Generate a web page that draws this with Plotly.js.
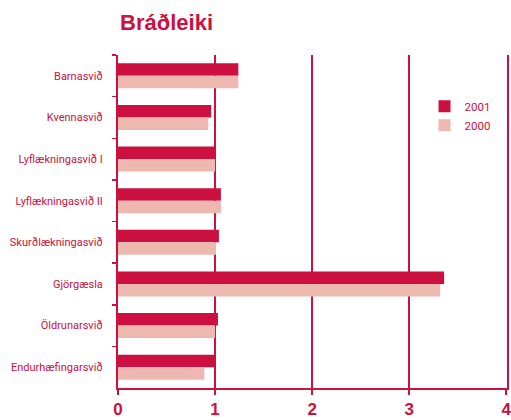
<!DOCTYPE html>
<html>
<head>
<meta charset="utf-8">
<script src="https://cdn.plot.ly/plotly-3.0.1.min.js"></script>
<style>html,body{margin:0;padding:0;background:#fff;}</style>
</head>
<body>
<div id="chart" style="width:511px;height:420px;"></div>
<script>
const categories = ["Barnasvið","Kvennasvið","Lyflækningasvið I","Lyflækningasvið II","Skurðlækningasvið","Gjörgæsla","Öldrunarsvið","Endurhæfingarsvið"];
const values2001 = [1.24, 0.96, 1.0, 1.06, 1.04, 3.36, 1.03, 1.0];
const values2000 = [1.24, 0.93, 1.0, 1.06, 1.01, 3.32, 1.0, 0.89];
const tickVals = [0, 1, 2, 3, 4];
const tickText = ["0", "1", "2", "3", "4"];

const crimson = "#CC1040";
const pink = "#EDB8B0";
const labelFont = "Roboto, 'Liberation Sans', sans-serif";

const data = [
  {type: "bar", orientation: "h", name: "2001", y: categories, x: values2001, marker: {color: crimson}},
  {type: "bar", orientation: "h", name: "2000", y: categories, x: values2000, marker: {color: pink}}
];

const layout = {
  width: 511, height: 420,
  margin: {l: 118, r: 4, t: 55, b: 32, pad: 0},
  paper_bgcolor: "#fff", plot_bgcolor: "#fff",
  barmode: "group", bargap: 0.4, bargroupgap: 0,
  showlegend: true,
  title: {text: "<b>Bráðleiki</b>", x: 0.235, xref: "container", xanchor: "left", y: 0.948, yref: "container", yanchor: "middle",
          font: {family: "'Liberation Sans', Arial, sans-serif", size: 22, color: crimson}},
  legend: {x: 0.788, y: 0.89, xanchor: "left", yanchor: "top", bgcolor: "rgba(0,0,0,0)",
           font: {family: labelFont, size: 11.5, color: crimson}, traceorder: "normal", itemwidth: 30, tracegroupgap: 4},
  xaxis: {range: [0, 4.008], tickvals: tickVals, ticktext: tickText, showgrid: true, gridcolor: crimson, gridwidth: 1.5,
          zeroline: false, showline: true, linecolor: crimson, linewidth: 2, ticks: "outside", ticklen: 5, tickcolor: crimson, tickwidth: 1.5,
          ticklabeloverflow: "allow",
          tickfont: {family: "'Liberation Sans', Arial, sans-serif", size: 17, color: crimson, weight: "bold"}, fixedrange: true},
  yaxis: {autorange: "reversed", type: "category", showgrid: false, zeroline: false, showline: true, mirror: true, linecolor: crimson, linewidth: 2,
          ticks: "outside", tickson: "boundaries", ticklen: 4, tickcolor: crimson, tickwidth: 1.5, ticklabelstandoff: 11,
          tickfont: {family: labelFont, size: 11, color: crimson}, fixedrange: true}
};

Plotly.newPlot("chart", data, layout, {displayModeBar: false, staticPlot: true});
</script>
</body>
</html>
